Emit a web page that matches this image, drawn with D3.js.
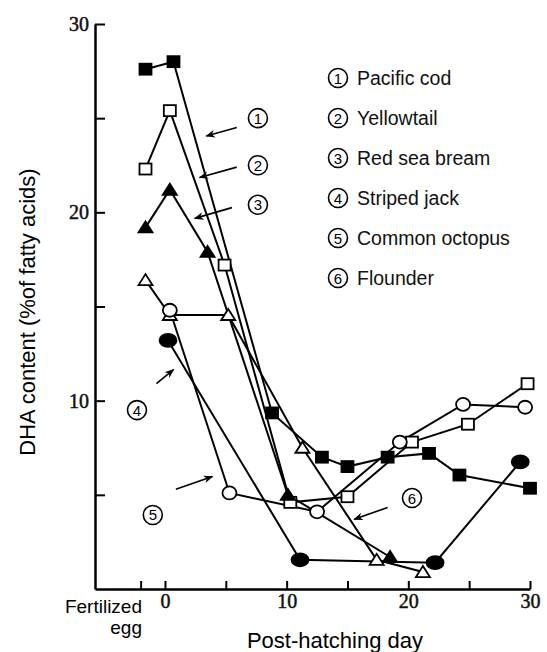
<!DOCTYPE html>
<html>
<head>
<meta charset="utf-8">
<script src="https://cdn.jsdelivr.net/npm/d3@7"></script>
<style>
  body { margin: 0; background: #fff; }
  svg { display: block; }
</style>
</head>
<body>
<svg width="547" height="652"></svg>
<script>
// values: [post-hatching day, DHA %]
var pacificCod = [[-1.6,27.6],[0.7,28.0],[8.8,9.35],[12.9,7.0],[15.0,6.5],[18.3,7.0],[21.7,7.2],[24.2,6.05],[30.0,5.35]]
var yellowtail = [[-1.6,22.3],[0.4,25.4],[4.9,17.2],[10.3,4.6],[15.0,4.9],[20.3,7.8],[24.9,8.75],[29.8,10.9]]
var redSeaBream = [[-1.6,19.2],[0.4,21.2],[3.5,17.9],[10.1,5.0],[18.5,1.7]]
var stripedJack = [[-1.6,16.4],[0.4,14.55],[5.2,14.55],[11.3,7.5],[17.4,1.55],[21.2,0.9]]
var octopus = [[0.4,14.8],[5.3,5.1],[12.5,4.1],[19.3,7.8],[24.5,9.8],[29.6,9.65]]
var flounder = [[0.25,13.2],[11.1,1.55],[22.2,1.4],[29.2,6.75]]

var speciesNames = ["Pacific cod","Yellowtail","Red sea bream","Striped jack","Common octopus","Flounder"]
var xTicks = [-2,0,5,10,15,20,25,30]
var xLabels = [0,10,20,30]
var yTicks = [5,10,15,20,25,30]
var yLabels = [10,20,30]

// numbered labels and arrows inside the plot, in data units
var numberLabels = [[7.64,25.0],[7.64,22.5],[7.64,20.4],[-2.3,9.5],[-1.0,3.93],[20.3,4.83]]
var arrows = [
  [[5.9,24.5],[3.4,24.05]],
  [[5.9,22.4],[2.85,21.85]],
  [[5.5,20.25],[2.45,19.68]],
  [[-0.7,10.9],[0.7,11.65]],
  [[0.9,5.3],[3.9,5.97]],
  [[18.3,4.33],[15.55,3.70]]
]

var series = [
  {data: pacificCod, mark: "square", filled: true},
  {data: yellowtail, mark: "square", filled: false},
  {data: redSeaBream, mark: "triangle", filled: true},
  {data: stripedJack, mark: "triangle", filled: false},
  {data: octopus, mark: "circle", filled: false},
  {data: flounder, mark: "circle", filled: true}
]

var svg = d3.select("svg")
var sans = "'Liberation Sans', Arial, sans-serif"
var serif = "'Liberation Serif', 'Times New Roman', serif"

var xScale = d3.scaleLinear().domain([-5.75,30]).range([95,530])
var yScale = d3.scaleLinear().domain([0,30]).range([589,24])

// axes
svg.append("g")
  .attr("transform","translate(0," + yScale(0) + ")")
  .call(d3.axisBottom(xScale).tickValues(xTicks).tickSizeInner(-8).tickSizeOuter(0).tickPadding(5)
        .tickFormat(function(d){return xLabels.indexOf(d) >= 0 ? d : "";}))
svg.append("g")
  .attr("transform","translate(" + xScale.range()[0] + ",0)")
  .call(d3.axisLeft(yScale).tickValues(yTicks).tickSizeInner(-10).tickSizeOuter(0).tickPadding(6)
        .tickFormat(function(d){return yLabels.indexOf(d) >= 0 ? d : "";}))

svg.selectAll(".domain").attr("stroke","#000").attr("stroke-width",2.5)
svg.selectAll(".tick line").attr("stroke","#000").attr("stroke-width",2)
svg.selectAll(".tick text")
   .style("font-family",serif).style("font-size","20px").attr("fill","#111")
   .attr("stroke","#111").attr("stroke-width",0.5)

svg.append("text").attr("x",142).attr("y",613).attr("text-anchor","end")
   .style("font-family",sans).style("font-size","19px").text("Fertilized")
svg.append("text").attr("x",142).attr("y",634).attr("text-anchor","end")
   .style("font-family",sans).style("font-size","19px").text("egg")

svg.append("text").attr("x",335).attr("y",648).attr("text-anchor","middle")
   .style("font-family",sans).style("font-size","22px").text("Post-hatching day")
svg.append("text").attr("transform","translate(35,312) rotate(-90)").attr("text-anchor","middle")
   .style("font-family",sans).style("font-size","22px").text("DHA content (%of fatty acids)")

// lines
var line = d3.line()
  .x(function(d){return xScale(d[0]);})
  .y(function(d){return yScale(d[1]);})

svg.append("g").selectAll("path")
   .data(series)
   .enter()
   .append("path")
   .attr("d",function(s){return line(s.data);})
   .attr("fill","none").attr("stroke","#000").attr("stroke-width",2)

// markers
series.forEach(function(s){
  var g = svg.append("g")
  var pts = g.selectAll("g").data(s.data).enter().append("g")
     .attr("transform",function(d){return "translate(" + xScale(d[0]) + "," + yScale(d[1]) + ")";})
  var fill = s.filled ? "#000" : "#fff"
  if (s.mark == "square") {
    pts.append("rect").attr("x",-6).attr("y",-5.5).attr("width",12).attr("height",11)
       .attr("fill",fill).attr("stroke","#000").attr("stroke-width",1.8)
  } else if (s.mark == "triangle") {
    pts.append("path").attr("d","M-7,5L0,-6L7,5Z")
       .attr("fill",fill).attr("stroke","#000").attr("stroke-width",1.8)
  } else {
    pts.append("ellipse").attr("rx",s.filled ? 8.5 : 7).attr("ry",6.5)
       .attr("fill",fill).attr("stroke","#000").attr("stroke-width",1.8)
  }
})

// arrows
svg.append("defs").append("marker")
   .attr("id","head").attr("viewBox","0 0 10 10").attr("refX",9).attr("refY",5)
   .attr("markerWidth",6).attr("markerHeight",6).attr("orient","auto")
   .append("path").attr("d","M0,1L10,5L0,9L3,5Z").attr("fill","#000")

svg.append("g").selectAll("line")
   .data(arrows)
   .enter()
   .append("line")
   .attr("x1",function(d){return xScale(d[0][0]);})
   .attr("y1",function(d){return yScale(d[0][1]);})
   .attr("x2",function(d){return xScale(d[1][0]);})
   .attr("y2",function(d){return yScale(d[1][1]);})
   .attr("stroke","#000").attr("stroke-width",1.6)
   .attr("marker-end","url(#head)")

// circled numbers
var circled = function(g, cx, cy, n){
  g.append("circle").attr("cx",cx).attr("cy",cy).attr("r",9.5)
   .attr("fill","#fff").attr("stroke","#000").attr("stroke-width",1.6)
  g.append("text").attr("x",cx).attr("y",cy + 5.5).attr("text-anchor","middle")
   .style("font-family",sans).style("font-size","15px").text(n)
}

var labelsG = svg.append("g")
numberLabels.forEach(function(p,i){
  circled(labelsG, xScale(p[0]), yScale(p[1]), i + 1)
})

// legend
var legend = svg.append("g")
speciesNames.forEach(function(name,i){
  var cy = 78 + i * 40
  circled(legend, 338, cy, i + 1)
  legend.append("text").attr("x",357).attr("y",cy + 7)
        .style("font-family",sans).style("font-size","19.5px").attr("fill","#111").text(name)
})
</script>
</body>
</html>
